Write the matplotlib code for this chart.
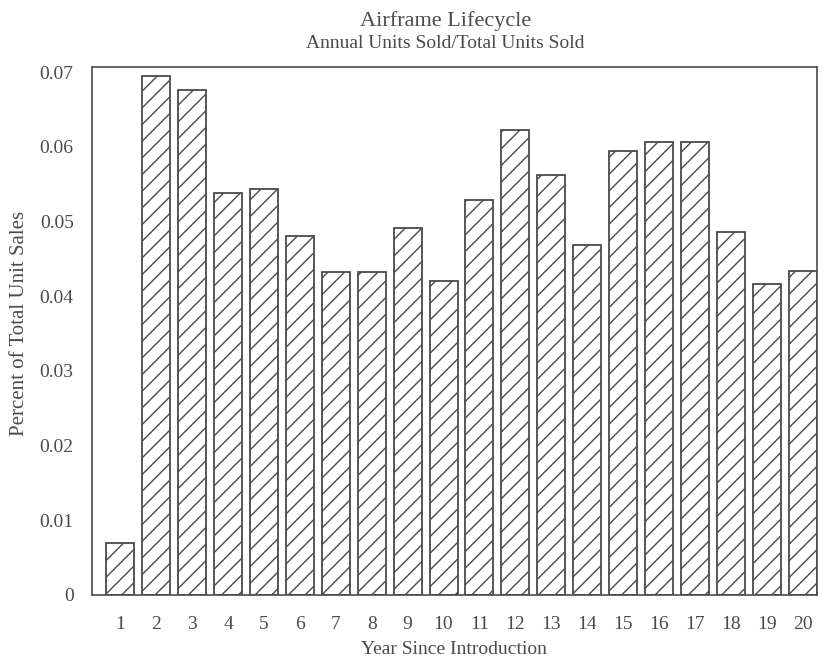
import numpy as np
import matplotlib
matplotlib.use("Agg")
import matplotlib.pyplot as plt

# values
years = list(range(1, 21))
share = [0.0070, 0.0695, 0.0677, 0.0539, 0.0544, 0.0481, 0.0432, 0.0432, 0.0491, 0.0421,
         0.0529, 0.0623, 0.0563, 0.0469, 0.0594, 0.0607, 0.0607, 0.0486, 0.0416, 0.0434]
yticks = [0, 0.01, 0.02, 0.03, 0.04, 0.05, 0.06, 0.07]
ytick_labels = ["0", "0.01", "0.02", "0.03", "0.04", "0.05", "0.06", "0.07"]

ink = "#4a4a4a"
plt.rcParams["font.family"] = ["Liberation Serif", "DejaVu Serif"]
plt.rcParams["hatch.color"] = ink
plt.rcParams["hatch.linewidth"] = 1.0

fig = plt.figure(figsize=(8.26, 6.58), dpi=100)
ax = fig.add_axes([0.111, 0.096, 0.878, 0.802])

ax.bar(years, share, width=0.78, facecolor="white", edgecolor=ink,
       linewidth=1.3, hatch="//")

ax.set_xlim(0.2, 20.4)
ax.set_ylim(0, 0.0707)
ax.set_xticks(years)
ax.set_xticklabels([str(y) for y in years])
ax.set_yticks(yticks)
ax.set_yticklabels(ytick_labels)
ax.tick_params(axis="both", length=0, labelsize=14, colors=ink)
ax.tick_params(axis="y", pad=13)
ax.tick_params(axis="x", pad=15)
for s in ax.spines.values():
    s.set_color(ink)
    s.set_linewidth(1.2)

ax.set_xlabel("Year Since Introduction", fontsize=14, color=ink, labelpad=6)
ax.set_ylabel("Percent of Total Unit Sales", fontsize=15, color=ink)
ax.yaxis.set_label_coords(-0.087, 0.515)

fig.text(0.539, 0.968, "Airframe Lifecycle", ha="center", va="center",
         fontsize=16, color=ink)
fig.text(0.539, 0.934, "Annual Units Sold/Total Units Sold", ha="center", va="center",
         fontsize=14, color=ink)

fig.savefig("out.png", dpi=100)
